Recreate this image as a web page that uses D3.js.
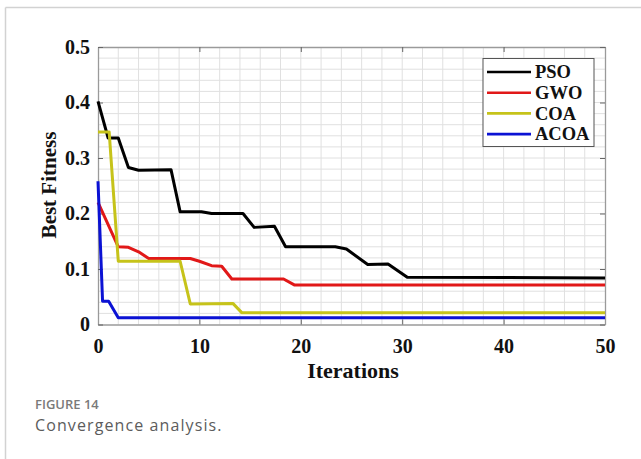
<!DOCTYPE html>
<html>
<head>
<meta charset="utf-8">
<script src="https://cdn.jsdelivr.net/npm/d3@7"></script>
<style>
  html, body { margin: 0; padding: 0; background: #fff; }
  svg { display: block; }
</style>
</head>
<body>
<svg id="chart" width="641" height="459"></svg>
<script>
// Convergence curves: [iteration, best fitness] at each change of the curve
const psoCurve = [
  [0, 0.402], [1, 0.336], [2, 0.336], [3, 0.283], [4, 0.278], [7.2, 0.279],
  [8.1, 0.203], [10.2, 0.203], [11.2, 0.200], [14.3, 0.200], [15.4, 0.175],
  [17.4, 0.177], [18.5, 0.140], [23.4, 0.140], [24.5, 0.136], [26.6, 0.108],
  [28.6, 0.109], [30.5, 0.085], [50, 0.084]
];
const gwoCurve = [
  [0, 0.220], [2, 0.140], [3, 0.139], [4, 0.131], [5, 0.119], [9.1, 0.119],
  [10, 0.114], [11.2, 0.106], [12.2, 0.105], [13.2, 0.082], [18.3, 0.082],
  [19.4, 0.071], [50, 0.071]
];
const coaCurve = [
  [0, 0.347], [1.1, 0.347], [2, 0.114], [8.1, 0.114], [9.1, 0.037],
  [13.3, 0.038], [14.2, 0.021], [50, 0.021]
];
const acoaCurve = [
  [0, 0.258], [0.45, 0.042], [1.05, 0.042], [2, 0.012], [50, 0.012]
];

const seriesNames = ["PSO", "GWO", "COA", "ACOA"];
const seriesCurves = [psoCurve, gwoCurve, coaCurve, acoaCurve];
const seriesColors = ["#000000", "#e11818", "#c6c31a", "#0b12d4"];

const xTicks = [0, 10, 20, 30, 40, 50];
const yTicks = [0, 0.1, 0.2, 0.3, 0.4, 0.5];
const yTickLabels = ["0", "0.1", "0.2", "0.3", "0.4", "0.5"];

const svg = d3.select("#chart");
const serif = "'Liberation Serif', 'Times New Roman', serif";

// Card frame
svg.append("line").attr("x1", 5.5).attr("x2", 641).attr("y1", 7.5).attr("y2", 7.5)
  .attr("stroke", "#d2d2d2").attr("stroke-width", 1.5);
svg.append("line").attr("x1", 5.5).attr("x2", 5.5).attr("y1", 7.5).attr("y2", 459)
  .attr("stroke", "#d2d2d2").attr("stroke-width", 1.5);

const plot = { left: 98, right: 605, top: 47, bottom: 324.5 };
const x = d3.scaleLinear().domain([0, 50]).range([plot.left, plot.right]);
const y = d3.scaleLinear().domain([0, 0.5]).range([plot.bottom, plot.top]);

// Grid
const grid = svg.append("g").attr("stroke", "#e0e0e0").attr("stroke-width", 1);
grid.selectAll("line.vx").data(d3.range(2, 50, 2)).join("line")
  .attr("x1", d => x(d)).attr("x2", d => x(d))
  .attr("y1", plot.top).attr("y2", plot.bottom);
grid.selectAll("line.hy").data(d3.range(1, 25).map(i => i * 0.02)).join("line")
  .attr("x1", plot.left).attr("x2", plot.right)
  .attr("y1", d => y(d)).attr("y2", d => y(d));

// Axes with inward ticks
const axisStyle = g => {
  g.select(".domain").attr("stroke", "#9a9a9a").attr("stroke-width", 1.3);
  g.selectAll(".tick line").attr("stroke", "#666");
  g.selectAll("text").attr("font-family", serif).attr("font-weight", "bold")
    .attr("font-size", 20).attr("fill", "#111");
};
svg.append("g").attr("transform", `translate(0,${plot.bottom})`)
  .call(d3.axisBottom(x).tickValues(xTicks).tickSize(-5).tickSizeOuter(0).tickPadding(14))
  .call(axisStyle);
svg.append("g").attr("transform", `translate(0,${plot.top})`)
  .call(d3.axisTop(x).tickValues(xTicks).tickSize(-5).tickSizeOuter(0).tickFormat(""))
  .call(axisStyle);
svg.append("g").attr("transform", `translate(${plot.left},0)`)
  .call(d3.axisLeft(y).tickValues(yTicks).tickSize(-5).tickSizeOuter(0).tickPadding(8)
    .tickFormat((d, i) => yTickLabels[i]))
  .call(axisStyle);
svg.append("g").attr("transform", `translate(${plot.right},0)`)
  .call(d3.axisRight(y).tickValues(yTicks).tickSize(-5).tickSizeOuter(0).tickFormat(""))
  .call(axisStyle);

// Curves
const line = d3.line().x(d => x(d[0])).y(d => y(d[1]));
svg.append("g").selectAll("path").data(seriesCurves).join("path")
  .attr("d", line)
  .attr("fill", "none")
  .attr("stroke", (d, i) => seriesColors[i])
  .attr("stroke-width", 3)
  .attr("stroke-linejoin", "round");

// Axis titles
svg.append("text").attr("x", 353).attr("y", 378).attr("text-anchor", "middle")
  .attr("font-family", serif).attr("font-weight", "bold").attr("font-size", 22)
  .attr("fill", "#111").text("Iterations");
svg.append("text").attr("transform", "translate(56,185) rotate(-90)")
  .attr("text-anchor", "middle")
  .attr("font-family", serif).attr("font-weight", "bold").attr("font-size", 21)
  .attr("fill", "#111").text("Best Fitness");

// Legend
const legend = svg.append("g");
legend.append("rect").attr("x", 483).attr("y", 58.5).attr("width", 111).attr("height", 88)
  .attr("fill", "#fff").attr("stroke", "#555").attr("stroke-width", 1);
const rows = legend.selectAll("g.row").data(seriesNames).join("g")
  .attr("transform", (d, i) => `translate(0,${72 + i * 20.7})`);
rows.append("line").attr("x1", 487).attr("x2", 531).attr("y1", 0).attr("y2", 0)
  .attr("stroke", (d, i) => seriesColors[i]).attr("stroke-width", 2.6);
rows.append("text").attr("x", 535).attr("y", 0).attr("dy", "0.34em")
  .attr("font-family", serif).attr("font-weight", "bold").attr("font-size", 18.5)
  .attr("fill", "#111").text(d => d);

// Caption
svg.append("text").attr("x", 35).attr("y", 409)
  .attr("font-family", "'Open Sans', sans-serif").attr("font-weight", 600)
  .attr("font-size", 13).attr("fill", "#7a7a7a").text("FIGURE 14");
svg.append("text").attr("x", 35).attr("y", 430.5)
  .attr("font-family", "'Open Sans', sans-serif").attr("font-weight", 400)
  .attr("font-size", 16).attr("letter-spacing", 1.1)
  .attr("fill", "#5c5c5c").text("Convergence analysis.");
</script>
</body>
</html>
